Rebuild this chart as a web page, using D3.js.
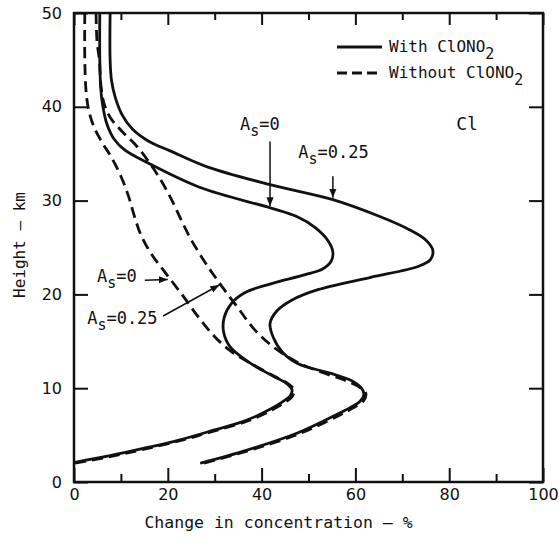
<!DOCTYPE html>
<html>
<head>
<meta charset="utf-8">
<script src="https://cdn.jsdelivr.net/npm/d3@7"></script>
<style>
  body { margin: 0; background: #fff; }
  svg { display: block; }
  .tick text { font-family: "DejaVu Sans", sans-serif; font-size: 16px; fill: #111; }
  .mono { font-family: "DejaVu Sans Mono", monospace; fill: #111; }
</style>
</head>
<body>
<div id="chart"></div>
<script>
// values: [change %, height km]
let solidAs0 = [[5.5,50],[5.5,45],[5.7,42],[6.1,40.2],[7.0,38.2],[8.5,36.6],[10.8,35.4],[16.2,33.9],[26.9,31.4],[42.0,29.2],[47.5,28.3],[51.5,27.1],[54.2,25.7],[55.2,24.5],[54.8,23.5],[53.0,22.7],[49.3,22.1],[41.8,21.1],[36.5,20.2],[33.5,19.0],[32.0,17.5],[31.9,16.0],[33.3,14.4],[37.5,12.7],[42.4,11.3],[45.3,10.5],[46.5,9.8],[46.1,9.2],[44.6,8.6],[42.0,7.8],[36.9,6.6],[29.6,5.5],[22.6,4.5],[15.0,3.6],[7.7,2.8],[0.2,2.1]];
let solidAs025 = [[7.7,50],[7.7,45],[8.0,42.8],[8.8,41.0],[10.2,39.2],[12.5,37.6],[16.0,36.3],[20.5,35.3],[28.4,33.6],[41.8,31.7],[55.2,30.1],[65.2,28.3],[71.5,26.9],[75.0,25.8],[76.5,24.7],[76.0,23.7],[73.5,23.0],[63.1,21.8],[52.0,20.5],[46.5,19.4],[43.2,18.2],[41.8,16.9],[42.5,15.4],[44.5,13.8],[47.8,12.6],[54.6,11.6],[59.2,10.8],[61.3,10.0],[61.8,9.3],[61.0,8.6],[58.8,7.9],[56.0,7.2],[47.5,5.2],[36.9,3.4],[26.9,2.0]];
let dashAs0 = [[2.3,50],[2.3,45],[2.6,41.5],[3.2,39.5],[4.3,37.8],[6.0,36.2],[8.0,34.6],[10.0,32.6],[11.6,30.5],[12.9,28.3],[14.3,26.3],[16.5,24.3],[19.5,22.3],[23.0,20.0],[26.5,17.6],[29.8,15.6],[33.3,14.0],[37.5,12.7],[42.6,11.3],[45.6,10.5],[46.9,9.8],[46.5,9.1],[45.0,8.5],[42.3,7.7],[37.0,6.5],[29.6,5.4],[22.6,4.4],[15.0,3.5],[7.7,2.7],[0.2,2.0]];
let dashAs025 = [[4.7,50],[4.9,47],[5.4,45],[5.8,42],[6.5,40.2],[7.8,38.8],[10.2,37.4],[13.2,35.9],[16.0,34.1],[18.5,32.2],[20.8,30.1],[22.8,28.0],[24.8,26.0],[27.2,24.0],[29.6,22.2],[32.2,20.4],[35.2,18.4],[38.4,16.3],[42.5,14.4],[47.5,12.8],[52.8,11.7],[57.5,10.9],[60.6,10.2],[62.2,9.5],[61.8,8.7],[59.5,7.9],[56.5,7.1],[47.8,5.1],[36.9,3.3],[26.9,1.9]];

let xMajor = [0,20,40,60,80,100];
let xMinor = [10,30,50,70,90];
let yMajor = [0,10,20,30,40,50];

let W = 559, H = 551;

let svg = d3.select("#chart").append("svg")
            .attr("width", W)
            .attr("height", H);

let xScale = d3.scaleLinear().domain([0,100]).range([74,543]);
let yScale = d3.scaleLinear().domain([0,50]).range([482,13]);

// axes, ticks inward
let bottomMajor = svg.append("g").attr("transform","translate(0,"+yScale(0)+")")
  .call(d3.axisBottom(xScale).tickValues(xMajor).tickSize(-14).tickPadding(7).tickFormat(d3.format("d")));
let bottomMinor = svg.append("g").attr("transform","translate(0,"+yScale(0)+")")
  .call(d3.axisBottom(xScale).tickValues(xMinor).tickSize(-8).tickFormat(""));
let topMajor = svg.append("g").attr("transform","translate(0,"+yScale(50)+")")
  .call(d3.axisTop(xScale).tickValues(xMajor).tickSize(-12).tickFormat(""));
let topMinor = svg.append("g").attr("transform","translate(0,"+yScale(50)+")")
  .call(d3.axisTop(xScale).tickValues(xMinor).tickSize(-7).tickFormat(""));
let leftAxis = svg.append("g").attr("transform","translate("+xScale(0)+",0)")
  .call(d3.axisLeft(yScale).tickValues(yMajor).tickSize(-14).tickPadding(12).tickFormat(d3.format("d")));
let rightAxis = svg.append("g").attr("transform","translate("+xScale(100)+",0)")
  .call(d3.axisRight(yScale).tickValues(yMajor).tickSize(-14).tickFormat(""));

svg.selectAll(".domain").remove();
svg.selectAll(".tick line").attr("stroke","#111").attr("stroke-width",2);

// frame
svg.append("rect")
   .attr("x", xScale(0)).attr("y", yScale(50))
   .attr("width", xScale(100)-xScale(0))
   .attr("height", yScale(0)-yScale(50))
   .attr("fill","none").attr("stroke","#111").attr("stroke-width",2.5);

let line = d3.line()
             .x(d=>xScale(d[0]))
             .y(d=>yScale(d[1]))
             .curve(d3.curveCatmullRom.alpha(0.5));

let plot = svg.append("g");
[dashAs0, dashAs025].forEach(function(data){
  plot.append("path").attr("d", line(data))
      .attr("fill","none").attr("stroke","#111").attr("stroke-width",2.8)
      .attr("stroke-dasharray","11,6");
});
[solidAs0, solidAs025].forEach(function(data){
  plot.append("path").attr("d", line(data))
      .attr("fill","none").attr("stroke","#111").attr("stroke-width",2.8);
});

// arrow marker
svg.append("defs").append("marker")
   .attr("id","arr").attr("viewBox","0 0 10 10")
   .attr("refX",10).attr("refY",5)
   .attr("markerWidth",9).attr("markerHeight",9)
   .attr("markerUnits","userSpaceOnUse")
   .attr("orient","auto")
   .append("path").attr("d","M0,1L10,5L0,9z").attr("fill","#111");

let arrows = [
  {from:[41.8,36.3], to:[41.8,29.4]},
  {from:[55.2,32.6], to:[55.2,30.3]},
  {from:[15.1,21.5], to:[20.0,21.6]},
  {from:[19.0,17.7], to:[31.0,21.0]}
];
arrows.forEach(function(a){
  svg.append("line")
     .attr("x1",xScale(a.from[0])).attr("y1",yScale(a.from[1]))
     .attr("x2",xScale(a.to[0])).attr("y2",yScale(a.to[1]))
     .attr("stroke","#111").attr("stroke-width",1.5)
     .attr("marker-end","url(#arr)");
});

// A_s labels
let asLabels = [
  {x:35.4, y:37.5, v:"0"},
  {x:47.8, y:34.5, v:"0.25"},
  {x:4.9, y:21.3, v:"0"},
  {x:2.8, y:16.8, v:"0.25"}
];
asLabels.forEach(function(l){
  let t = svg.append("text").attr("class","mono")
             .attr("x",xScale(l.x)).attr("y",yScale(l.y))
             .style("font-size","17px");
  t.append("tspan").text("A");
  t.append("tspan").attr("dy",6).style("font-size","15px").text("s");
  t.append("tspan").attr("dy",-6).text("=" + l.v);
});

svg.append("text").attr("class","mono")
   .attr("x",xScale(81.5)).attr("y",yScale(37.5))
   .style("font-size","18px").text("Cl");

// legend
let legend = [
  {label:"With ClONO", dash:null, y:47},
  {label:"Without ClONO", dash:"10,5", y:73}
];
legend.forEach(function(l){
  svg.append("line").attr("x1",337).attr("x2",382).attr("y1",l.y).attr("y2",l.y)
     .attr("stroke","#111").attr("stroke-width",2.8)
     .attr("stroke-dasharray",l.dash);
  let t = svg.append("text").attr("class","mono")
             .attr("x",389).attr("y",l.y+5).style("font-size","16px");
  t.append("tspan").text(l.label);
  t.append("tspan").attr("dy",7).style("font-size","15px").text("2");
});

// axis titles
svg.append("text").attr("class","mono")
   .attr("x",(xScale(0)+xScale(100))/2 - 30).attr("y",528)
   .attr("text-anchor","middle").style("font-size","16.5px")
   .text("Change in concentration — %");
svg.append("text").attr("class","mono")
   .attr("transform","translate(25,245) rotate(-90)")
   .attr("text-anchor","middle").style("font-size","16px")
   .text("Height — km");
</script>
</body>
</html>
